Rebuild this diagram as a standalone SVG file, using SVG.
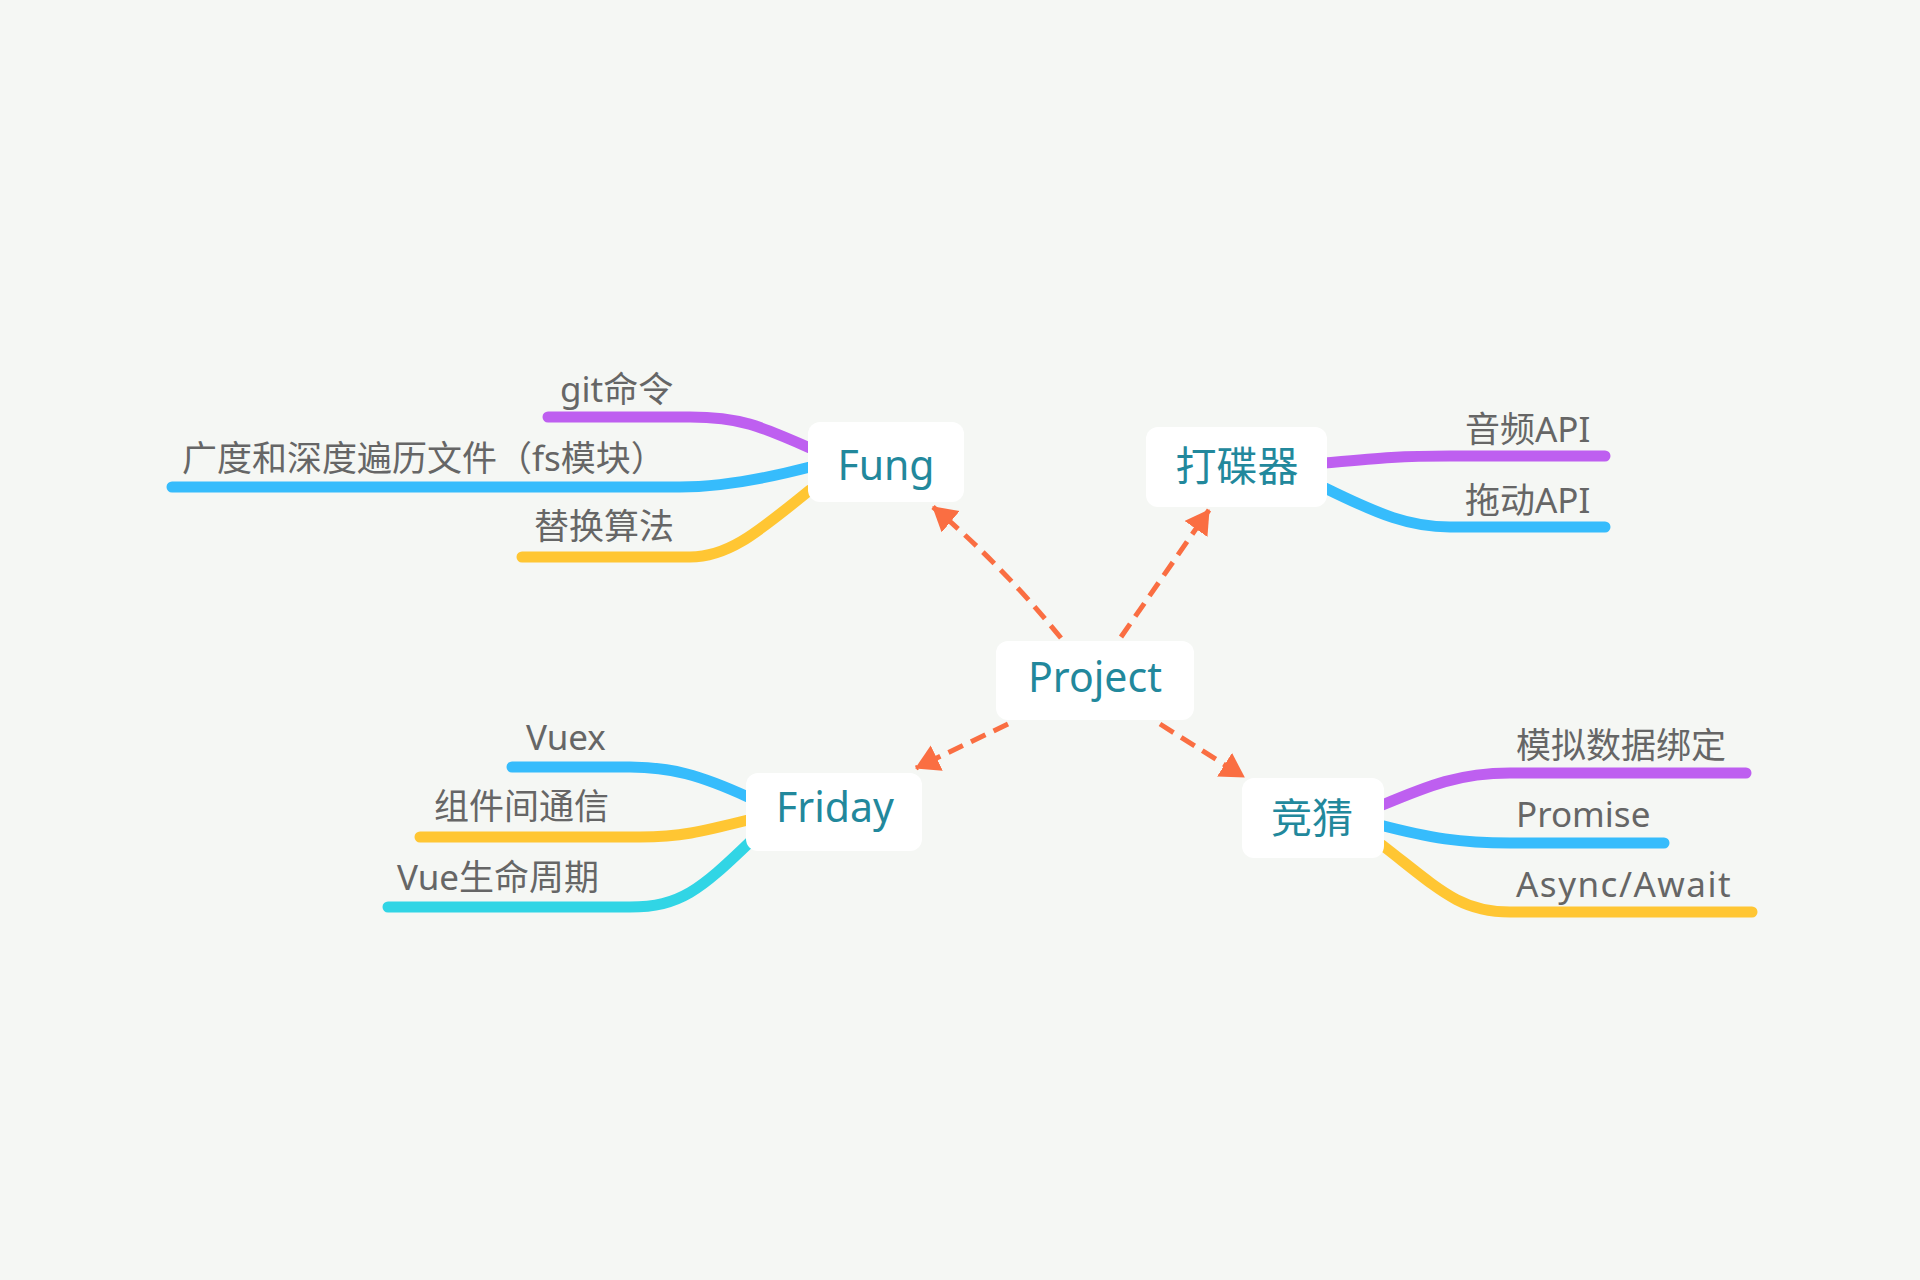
<svg xmlns="http://www.w3.org/2000/svg" width="1920" height="1280" viewBox="0 0 1920 1280">
<defs>
<style>
.bg{fill:#F5F7F4}
.node rect{fill:#FFFFFF}
.title{font-family:"Noto Sans","Noto Sans CJK SC",sans-serif;font-size:41px;fill:#22889C;text-anchor:middle}
.lbl{font-family:"Noto Sans","Noto Sans CJK SC",sans-serif;font-size:35px;fill:#666666}
.br{fill:none;stroke-width:11;stroke-linecap:round}
.pu{stroke:#BE5FF0}
.bl{stroke:#36BCFC}
.ye{stroke:#FFC633}
.cy{stroke:#31D5E5}
.arr{fill:none;stroke:#FA6E42;stroke-width:5;stroke-dasharray:16 9;marker-end:url(#ah)}
</style>
<marker id="ah" markerUnits="userSpaceOnUse" markerWidth="28" markerHeight="30" refX="23" refY="14" orient="auto" viewBox="0 0 28 30">
<path d="M0,0 L24,14 L0,28 z" fill="#FA6E42"/>
</marker>
</defs>
<rect class="bg" x="0" y="0" width="1920" height="1280"/>
<g id="connectors">
<path class="br pu" d="M810 448 C760 426 740 417 690 417 L548 417"/>
<path class="br bl" d="M810 467 C760 480 720 487 680 487 L172 487"/>
<path class="br ye" d="M810 490 C760 530 730 557 690 557 L522 557"/>
<path class="br pu" d="M1325 463 C1380 458 1400 456 1450 456 L1605 456"/>
<path class="br bl" d="M1325 488 C1380 515 1410 527 1450 527 L1605 527"/>
<path class="br bl" d="M748 797 C700 775 670 767 630 767 L512 767"/>
<path class="br ye" d="M748 820 C700 832 680 837 640 837 L420 837"/>
<path class="br cy" d="M750 842 C700 890 680 907 630 907 L388 907"/>
<path class="br pu" d="M1380 806 C1430 785 1460 773 1510 773 L1746 773"/>
<path class="br bl" d="M1380 825 C1430 838 1460 843 1510 843 L1664 843"/>
<path class="br ye" d="M1382 845 C1440 890 1460 912 1510 912 L1752 912"/>
<path class="arr" d="M1061 638 Q1000 563 933 507"/>
<path class="arr" d="M1121 637 L1209 510"/>
<path class="arr" d="M1008 724 L916 768"/>
<path class="arr" d="M1160 724 L1244 777"/>
</g>
<g id="project" class="node"><rect x="996" y="641" width="198" height="79" rx="12"/><text class="title" x="1095" y="692">Project</text></g>
<g id="fung" class="node"><rect x="808" y="422" width="156" height="80" rx="12"/><text class="title" x="886" y="480">Fung</text></g>
<g id="dadieqi" class="node"><rect x="1146" y="427" width="181" height="80" rx="12"/><text class="title" x="1237" y="481">打碟器</text></g>
<g id="friday" class="node"><rect x="746" y="773" width="176" height="78" rx="12"/><text class="title" x="835" y="822">Friday</text></g>
<g id="jingcai" class="node"><rect x="1242" y="778" width="142" height="80" rx="12"/><text class="title" x="1312" y="833">竞猜</text></g>
<g id="labels">
<text class="lbl" x="560" y="402">git命令</text>
<text class="lbl" x="182" y="471">广度和深度遍历文件（fs模块）</text>
<text class="lbl" x="534" y="539">替换算法</text>
<text class="lbl" x="1465" y="442">音频API</text>
<text class="lbl" x="1465" y="513">拖动API</text>
<text class="lbl" x="526" y="750">Vuex</text>
<text class="lbl" x="434" y="819">组件间通信</text>
<text class="lbl" x="397" y="890">Vue生命周期</text>
<text class="lbl" x="1516" y="758">模拟数据绑定</text>
<text class="lbl" x="1516" y="827">Promise</text>
<text class="lbl" x="1516" y="897" style="letter-spacing:1.5px">Async/Await</text>
</g>
</svg>
